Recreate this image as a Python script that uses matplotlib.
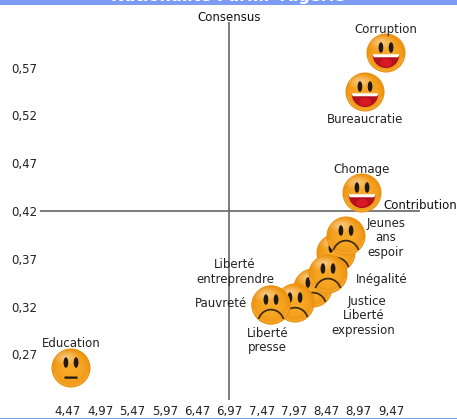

import numpy as np
import matplotlib
matplotlib.use('Agg')
import matplotlib.pyplot as plt
from matplotlib.offsetbox import AnnotationBbox, OffsetImage
from matplotlib.patches import Rectangle

W, H = 457, 419

# Valeurs (ordre = ordre de dessin)
noms = ['Corruption', 'Bureaucratie', 'Chomage', 'Liberté\nentreprendre', 'Jeunes\nans\nespoir',
        'Justice', 'Inégalité', 'Liberté\nexpression', 'Pauvreté', 'Liberté\npresse', 'Education']
contribution = [9.39, 9.07, 9.02, 8.62, 8.77, 8.26, 8.49, 7.98, 7.61, 7.61, 4.52]
consensus = [0.585, 0.544, 0.439, 0.376, 0.394, 0.340, 0.354, 0.324, 0.322, 0.322, 0.256]
humeur = ['joie', 'joie', 'joie', 'triste', 'triste', 'triste', 'triste', 'triste', 'triste', 'triste', 'neutre']

x_ticks = [4.47, 4.97, 5.47, 5.97, 6.47, 6.97, 7.47, 7.97, 8.47, 8.97, 9.47]
y_ticks = [0.27, 0.32, 0.37, 0.42, 0.47, 0.52, 0.57]
x_centre = 6.97
y_centre = 0.42

# Décalage des étiquettes par rapport au point, en pixels
decalages = {
    'Corruption': (0, 24), 'Bureaucratie': (0, -27), 'Chomage': (0, 23),
    'Liberté\nentreprendre': (-101, -19), 'Jeunes\nans\nespoir': (40, -2),
    'Justice': (54, -14), 'Inégalité': (54, -5), 'Liberté\nexpression': (69, -20),
    'Pauvreté': (-50, 1), 'Liberté\npresse': (-3, -36), 'Education': (0, 24),
}


def smiley(type_visage, n=40, ss=4):
    # Petite image RGBA du visage, calculée en suréchantillonnage
    m = n * ss
    v, u = np.mgrid[0:m, 0:m]
    u = (u + 0.5 - m / 2) / (m / 2) * (n / 39)
    v = (v + 0.5 - m / 2) / (m / 2) * (n / 39)
    r = np.hypot(u, v)
    img = np.zeros((m, m, 4))

    centre = np.array([0.97, 0.66, 0.15])
    bord = np.array([0.92, 0.56, 0.05])
    t = np.clip(r, 0, 1)[..., None] ** 3
    img[..., :3] = centre * (1 - t) + bord * t

    # reflet en haut à gauche et liseré clair en bas
    reflet = np.clip(1 - np.hypot((u + 0.25) / 0.7, (v + 0.55) / 0.4), 0, 1)[..., None] * 0.45
    img[..., :3] = img[..., :3] * (1 - reflet) + reflet
    liseret = (r > 0.86) & (r < 0.95) & (v > 0.2)
    img[liseret, :3] = img[liseret, :3] * 0.75 + np.array([1.0, 0.85, 0.5]) * 0.25

    noir = np.array([0.13, 0.10, 0.08])
    for sx in (-0.26, 0.26):
        oeil = ((u - sx) / 0.12) ** 2 + ((v + 0.28) / 0.27) ** 2 < 1
        img[oeil, :3] = noir

    if type_visage == 'joie':
        bouche = ((u / 0.68) ** 2 + ((v - 0.10) / 0.67) ** 2 < 1) & (v > 0.10)
        img[bouche, :3] = np.array([0.70, 0.07, 0.12])
        coeur = ((u / 0.3) ** 2 + ((v - 0.5) / 0.2) ** 2 < 1) & bouche
        img[coeur, :3] = np.array([0.85, 0.10, 0.14])
        dents = (np.abs(u) < 0.68 - 0.5 * np.abs(v - 0.1)) & (v > 0.06) & (v < 0.22)
        img[dents, :3] = np.array([1.0, 1.0, 0.98])
    elif type_visage == 'triste':
        d = np.hypot(u, v - 0.90)
        arc = (np.abs(d - 0.66) < 0.045) & (v < 0.72)
        img[arc, :3] = np.array([0.25, 0.17, 0.08])
    else:
        barre = (np.abs(u) < 0.33) & (np.abs(v - 0.49) < 0.06)
        img[barre, :3] = noir

    img[..., 3] = (r <= 1).astype(float)
    # réduction par moyenne, couleurs pondérées par l'alpha
    a = img[..., 3:]
    premul = np.concatenate([img[..., :3] * a, a], axis=2)
    petit = premul.reshape(n, ss, n, ss, 4).mean(axis=(1, 3))
    alpha = np.clip(petit[..., 3:], 1e-6, 1)
    return np.concatenate([petit[..., :3] / alpha, petit[..., 3:]], axis=2)


fmt = lambda valeurs: [f'{val:.2f}'.replace('.', ',') for val in valeurs]

plt.rcParams['font.family'] = ['DejaVu Sans']
plt.rcParams['font.size'] = 8.5

fig = plt.figure(figsize=(W / 100, H / 100), dpi=100)
ax = fig.add_axes([40 / W, 1 - 400 / H, 380 / W, 378 / H])
ax.set_xlim(4.0366, 9.919)
ax.set_ylim(0.2224, 0.6176)
for spine in ax.spines.values():
    spine.set_visible(False)
ax.set_xticks(x_ticks, fmt(x_ticks))
ax.set_yticks(y_ticks, fmt(y_ticks))
ax.tick_params(axis='x', length=0, pad=3.5, colors='#222222')
ax.tick_params(axis='y', length=0, pad=2, colors='#222222')
ax.patch.set_alpha(0)

ax.axvline(x_centre, color='#666666', lw=1.2, zorder=1)
ax.axhline(y_centre, color='#666666', lw=1.2, zorder=1)

ax.annotate('Consensus', xy=(x_centre, ax.get_ylim()[1]), xytext=(0, 5), textcoords='offset pixels',
            ha='center', va='center', color='#111111')
ax.annotate('Contribution', xy=(ax.get_xlim()[1], y_centre), xytext=(0, 6), textcoords='offset pixels',
            ha='center', va='center', color='#111111', annotation_clip=False)

images = {h: smiley(h) for h in set(humeur)}
for i, nom in enumerate(noms):
    boite = OffsetImage(images[humeur[i]], zoom=1, dpi_cor=False)
    ab = AnnotationBbox(boite, (contribution[i], consensus[i]), frameon=False, pad=0,
                        box_alignment=(0.5, 0.5), zorder=3 + i * 0.01)
    ax.add_artist(ab)

for i, nom in enumerate(noms):
    ax.annotate(nom, xy=(contribution[i], consensus[i]), xytext=decalages[nom], textcoords='offset pixels',
                ha='center', va='center', multialignment='center', linespacing=1.15,
                color='#222222', zorder=5)

# Bandeau du titre (coupé en haut) et filet du bas
fig.add_artist(Rectangle((0, 1 - 5.5 / H), 1, 5.5 / H, transform=fig.transFigure, color='#7c9bf2', lw=0))
fig.add_artist(Rectangle((0, 0), 1, 1.5 / H, transform=fig.transFigure, color='#7c9bf2', lw=0))
fig.text(228 / W, 1 - 1.5 / H, 'Nationalité Parmi  Algérie', color='white', fontweight='bold',
         fontsize=11.5, ha='center', va='baseline')

fig.savefig('out.png', dpi=100)
